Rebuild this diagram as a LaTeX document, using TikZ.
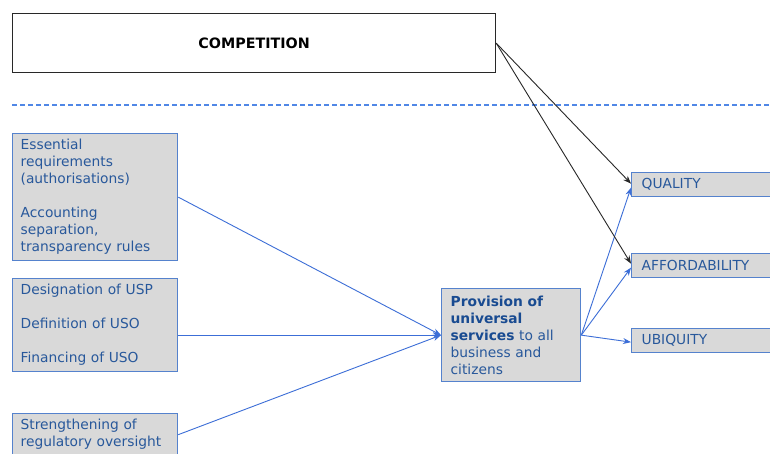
\documentclass[tikz,border=0pt]{standalone}
\usepackage{fontspec}
\setmainfont{DejaVu Sans}
\usetikzlibrary{arrows.meta}
\definecolor{txtblue}{RGB}{40,88,155}
\definecolor{boldblue}{RGB}{25,75,145}
\definecolor{bordblue}{RGB}{85,130,205}
\definecolor{lineblue}{RGB}{60,110,215}
\definecolor{dashblue}{RGB}{80,135,230}
\definecolor{boxgray}{RGB}{217,217,217}
\definecolor{darkline}{RGB}{40,40,40}
\begin{document}
\begin{tikzpicture}[x=1pt,y=-1pt,
  inbox/.style={draw=bordblue, line width=1.3pt, fill=boxgray, text=txtblue,
    anchor=north west, align=left, inner xsep=8pt, inner ysep=0pt,
    font=\fontsize{13.8}{17}\selectfont},
  outbox/.style={inbox, inner xsep=10pt, text width=140pt, minimum height=24pt},
  bluearrow/.style={draw=lineblue, line width=0.9pt, -{Stealth[length=8pt,width=6pt]}},
  blackarrow/.style={draw=darkline, line width=0.9pt, -{Stealth[length=8pt,width=6pt]}}
]
\useasboundingbox (0,0) rectangle (770,453);
\fill[white] (0,0) rectangle (770,453);

\node[draw=darkline, line width=1.2pt, fill=white, anchor=north west,
  minimum width=483pt, minimum height=59pt,
  font=\fontsize{14.3}{17}\selectfont\bfseries] (comp) at (12,13) {COMPETITION};

\coordinate (dl) at (12,105);
\coordinate (dr) at (770,105);
\draw[dashblue, line width=1.2pt, dash pattern=on 5pt off 3pt] (dl) -- (dr);

\node[inbox, text width=149pt, minimum height=127pt] (b1) at (12,133)
  {Essential\\requirements\\(authorisations)\\[17pt]Accounting\\separation,\\transparency rules};
\node[inbox, text width=149pt, minimum height=93pt] (b2) at (12,278)
  {Designation of USP\\[17pt]Definition of USO\\[17pt]Financing of USO};
\node[inbox, text width=149pt, minimum height=42pt] (b3) at (12,413)
  {Strengthening of\\regulatory oversight};

\node[inbox, inner xsep=9pt, text width=121pt, minimum height=93pt] (prov) at (441,288)
  {\textcolor{boldblue}{\bfseries Provision of}\\\textcolor{boldblue}{\bfseries universal}\\\textcolor{boldblue}{\bfseries services} to all\\business and\\citizens};

\node[outbox] (qual) at (631,172) {QUALITY};
\node[outbox] (aff) at (631,253) {AFFORDABILITY};
\node[outbox] (ubi) at (631,328) {UBIQUITY};

\draw[bluearrow] (b1.east) -- (prov.west);
\draw[bluearrow] (b2.east |- prov.west) -- (prov.west);
\draw[bluearrow] (b3.east) -- (prov.west);

\draw[bluearrow] (prov.east) -- ([yshift=-3pt]qual.west);
\draw[bluearrow] (prov.east) -- ([yshift=-2pt]aff.west);
\draw[bluearrow] (prov.east) -- ([yshift=-1.5pt]ubi.west);

\draw[blackarrow] (comp.east) -- ([yshift=1pt]qual.west);
\draw[blackarrow] (comp.east) -- ([yshift=2pt]aff.west);
\end{tikzpicture}
\end{document}
